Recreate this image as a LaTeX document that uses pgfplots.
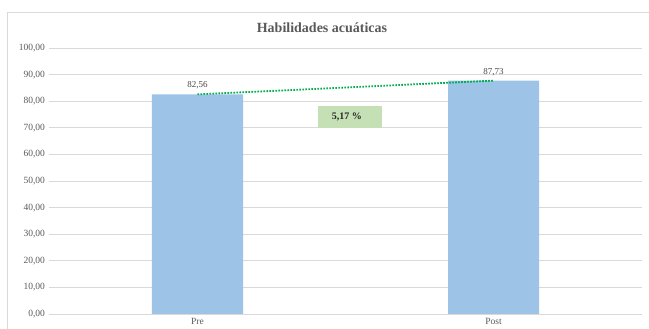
\documentclass[border=0pt]{standalone}
\usepackage{pgfplots}
\pgfplotsset{compat=1.18}
\usepackage{fontspec}
\setmainfont{Liberation Serif}
\definecolor{barblue}{HTML}{9DC3E6}
\definecolor{txtgray}{HTML}{595959}
\definecolor{gridgray}{HTML}{D9D9D9}
\definecolor{trendgreen}{HTML}{00B050}
\definecolor{boxgreen}{HTML}{C5E0B4}
\begin{document}
\begin{tikzpicture}
\useasboundingbox (0pt,0pt) rectangle (649pt,329pt);
\draw[gridgray, line width=0.8pt] (7pt,0pt) -- (7pt,317pt) -- (649pt,317pt);
\node[font=\bfseries\fontsize{14}{16}\selectfont, text=txtgray] at (322pt,301pt) {Habilidades acuáticas};
\begin{axis}[
  at={(49.5pt,15pt)}, anchor=south west,
  scale only axis, width=592pt, height=266pt,
  xmin=-0.5, xmax=1.5, ymin=0, ymax=100,
  ytick={0,10,...,100},
  xtick={0,1}, xticklabels={Pre,Post},
  ymajorgrids, grid style={gridgray, line width=0.7pt},
  axis line style={draw=none},
  tick style={draw=none},
  clip=false,
  ticklabel style={font=\fontsize{9.5}{11}\selectfont, text=txtgray},
  yticklabel style={xshift=-1pt, /pgf/number format/.cd, fixed, fixed zerofill, precision=2, use comma, 1000 sep={}, assume math mode=true},
  xticklabel style={yshift=-1pt},
]
\addplot[ybar, bar width=91pt, fill=barblue, draw=none,
  nodes near coords,
  every node near coord/.append style={font=\fontsize{9}{10}\selectfont, text=txtgray!80!black, yshift=1.5pt,
    /pgf/number format/.cd, fixed, fixed zerofill, precision=2, use comma, assume math mode=true}]
  coordinates {(0,82.56) (1,87.73)};
\addplot[trendgreen, line width=1.8pt, dash pattern=on 1.6pt off 1.4pt] coordinates {(0,82.56) (1,87.73)};
\fill[boxgreen] (axis cs:0.407,70) rectangle (axis cs:0.623,78.2);
\node[font=\bfseries\fontsize{10}{12}\selectfont, text=black!85] at (axis cs:0.505,74.2) {5,17 \%};
\end{axis}
\end{tikzpicture}
\end{document}
